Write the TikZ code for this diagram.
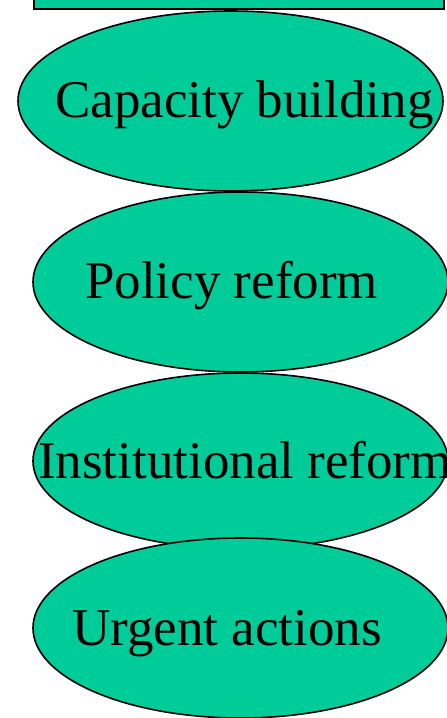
\documentclass[tikz,border=0pt]{standalone}
\usepackage{fontspec}
\setmainfont{Liberation Serif}
\usepackage{xcolor}
\usepackage{tikz}
\usetikzlibrary{shapes.geometric}
\definecolor{mint}{HTML}{00CC99}
\begin{document}
\begin{tikzpicture}[x=1pt,y=-1pt,
	oval/.style={ellipse, draw, fill=mint, line width=1.6pt, inner sep=0pt},
	lbl/.style={anchor=base west, inner sep=0pt, font=\fontsize{53}{60}\selectfont}]
			% Khung
			\clip (0,0) rectangle (447,718);
			\node[draw, fill=mint, line width=1.6pt, minimum width=410pt, minimum height=60pt, anchor=south west] (top) at (33,10) {};
			% Các hình elip
			\node[oval, minimum width=425pt, minimum height=180pt] (cap) at (230.5,101) {};
			\node[oval, minimum width=415pt, minimum height=180pt] (pol) at (240.5,282) {};
			\node[oval, minimum width=415pt, minimum height=176pt] (inst) at (240.5,461) {};
			\node[oval, minimum width=415pt, minimum height=180pt] (urg) at (240.5,628) {};
			% Chữ
			\node[lbl] (capt) at (55,117) {Capacity building};
			\node[lbl] (polt) at (85,298) {Policy reform};
			\node[lbl] (instt) at (38,478) {Institutional reform};
			\node[lbl] (urgt) at (72,645) {Urgent actions};
		\end{tikzpicture}
\end{document}
